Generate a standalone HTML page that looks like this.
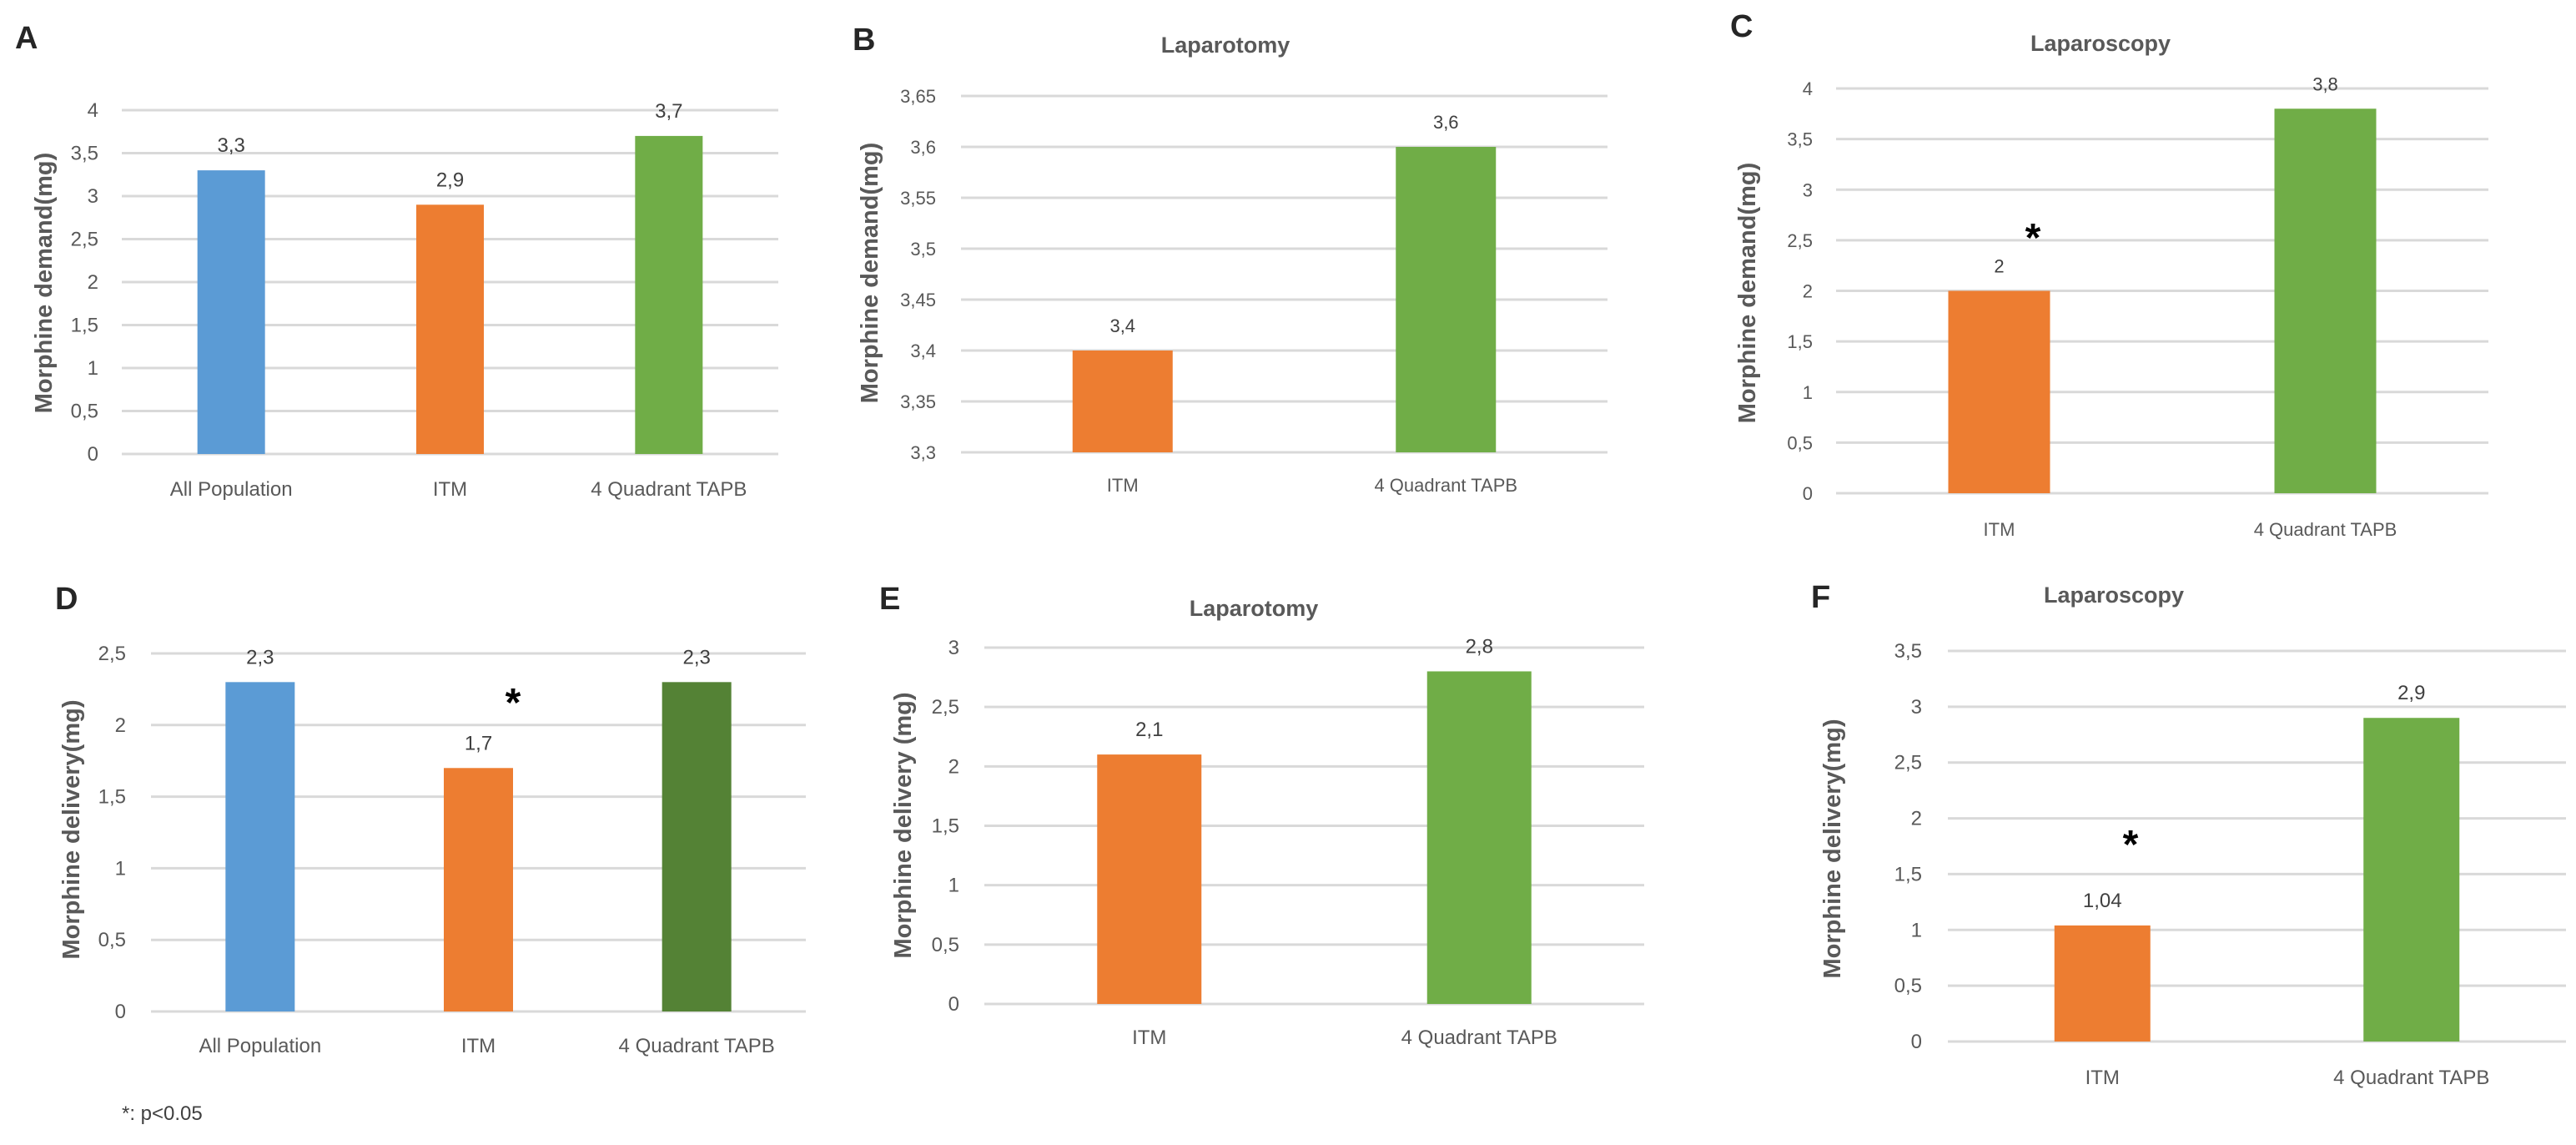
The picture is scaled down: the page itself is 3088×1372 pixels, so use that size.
<!DOCTYPE html>
<html><head><meta charset="utf-8">
<style>
html,body{margin:0;padding:0;background:#fff;}
svg{display:block;font-family:"Liberation Sans",sans-serif;}
</style></head>
<body>
<svg id="fig" width="3088" height="1372" viewBox="0 0 3088 1372" xmlns="http://www.w3.org/2000/svg"></svg>
<script>
// ---- data ----
const catsA = ["All Population", "ITM", "4 Quadrant TAPB"];
const valsA = [3.3, 2.9, 3.7];
const lblsA = ["3,3", "2,9", "3,7"];
const ticksA = [0, 0.5, 1, 1.5, 2, 2.5, 3, 3.5, 4];
const tickLblsA = ["0","0,5","1","1,5","2","2,5","3","3,5","4"];

const catsB = ["ITM", "4 Quadrant TAPB"];
const valsB = [3.4, 3.6];
const lblsB = ["3,4", "3,6"];
const ticksB = [3.3, 3.35, 3.4, 3.45, 3.5, 3.55, 3.6, 3.65];
const tickLblsB = ["3,3","3,35","3,4","3,45","3,5","3,55","3,6","3,65"];

const catsC = ["ITM", "4 Quadrant TAPB"];
const valsC = [2, 3.8];
const lblsC = ["2", "3,8"];
const ticksC = [0, 0.5, 1, 1.5, 2, 2.5, 3, 3.5, 4];
const tickLblsC = ["0","0,5","1","1,5","2","2,5","3","3,5","4"];

const catsD = ["All Population", "ITM", "4  Quadrant TAPB"];
const valsD = [2.3, 1.7, 2.3];
const lblsD = ["2,3", "1,7", "2,3"];
const ticksD = [0, 0.5, 1, 1.5, 2, 2.5];
const tickLblsD = ["0","0,5","1","1,5","2","2,5"];

const catsE = ["ITM", "4 Quadrant TAPB"];
const valsE = [2.1, 2.8];
const lblsE = ["2,1", "2,8"];
const ticksE = [0, 0.5, 1, 1.5, 2, 2.5, 3];
const tickLblsE = ["0","0,5","1","1,5","2","2,5","3"];

const catsF = ["ITM", "4 Quadrant TAPB"];
const valsF = [1.04, 2.9];
const lblsF = ["1,04", "2,9"];
const ticksF = [0, 0.5, 1, 1.5, 2, 2.5, 3, 3.5];
const tickLblsF = ["0","0,5","1","1,5","2","2,5","3","3,5"];

// ---- drawing ----
const NS = "http://www.w3.org/2000/svg";
const svg = document.getElementById("fig");
function mk(tag, attrs, parent) {
  const e = document.createElementNS(NS, tag);
  for (const k in attrs) e.setAttribute(k, attrs[k]);
  (parent || svg).appendChild(e);
  return e;
}
function txt(s, attrs, parent) { const t = mk("text", attrs, parent); t.textContent = s; return t; }

function panel(p) {
  const g = mk("g", {});
  
  
  const ymin = p.ticks[0], ymax = p.ticks[p.ticks.length - 1];
  const yScale = v => p.y0 + (v - ymin) / (ymax - ymin) * (p.y1 - p.y0);
  const n = p.cats.length;
  const band = (p.x1 - p.x0) / n;
  const xc = i => p.x0 + band * (i + 0.5);

  p.ticks.forEach((t, i) => {
    const y = yScale(t);
    const l = mk("line", {x1: p.x0, x2: p.x1, y1: y, y2: y, stroke: "#d9d9d9", "stroke-width": 3}, g);
    
    
    const tl = txt(p.tickLbls[i], {x: p.tickX, y: y + 8, "text-anchor": "end", "font-size": p.fs, fill: "#595959"}, g);
    
    
  });

  p.vals.forEach((v, i) => {
    const yt = yScale(v);
    const r = mk("rect", {x: xc(i) - p.bw / 2, y: yt, width: p.bw, height: p.y0 - yt, fill: p.colors[i]}, g);
    
    
    const vl = txt(p.lbls[i], {x: xc(i), y: yt - 22, "text-anchor": "middle", "font-size": p.fs, fill: "#404040"}, g);
    
    
    const cl = txt(p.cats[i], {x: xc(i), y: p.catY + 8, "text-anchor": "middle", "font-size": p.fs, fill: "#595959"}, g);
    
    
  });

  const at = txt(p.ytitle, {x: 0, y: 0, transform: "translate(" + p.titleX + "," + p.titleY + ") rotate(-90)", "text-anchor": "middle", "font-size": 29, "font-weight": "bold", fill: "#595959"}, g);
  
  

  const pl = txt(p.id, {x: p.letterX, y: p.letterY, "font-size": 38, "font-weight": "bold", fill: "#262626"}, g);
  
  

  if (p.title) {
    const ct = txt(p.title, {x: p.titleCx, y: p.titleCy + 10, "text-anchor": "middle", "font-size": 27, "font-weight": "bold", fill: "#595959"}, g);
    
    
  }
  if (p.star) {
    const st = txt("*", {x: p.star[0], y: p.star[1] + 22, "text-anchor": "middle", "font-size": 48, "font-weight": "bold", fill: "#000"}, g);
    
    
  }
}

const BLUE = "#5b9bd5", ORANGE = "#ed7d31", GREEN = "#70ad47", DGREEN = "#548235";

panel({id: "A", cats: catsA, vals: valsA, lbls: lblsA, ticks: ticksA, tickLbls: tickLblsA,
  x0: 146, x1: 933, y0: 544, y1: 132, bw: 81, tickX: 118, catY: 586, fs: 24,
  colors: [BLUE, ORANGE, GREEN], ytitle: "Morphine demand(mg)", titleX: 62, titleY: 339,
  letterX: 18, letterY: 58});
panel({id: "B", cats: catsB, vals: valsB, lbls: lblsB, ticks: ticksB, tickLbls: tickLblsB,
  x0: 1152, x1: 1927, y0: 542, y1: 115, bw: 120, tickX: 1122, catY: 581, fs: 22,
  colors: [ORANGE, GREEN], ytitle: "Morphine demand(mg)", titleX: 1052, titleY: 327,
  letterX: 1022, letterY: 60, title: "Laparotomy", titleCx: 1469, titleCy: 53});
panel({id: "C", cats: catsC, vals: valsC, lbls: lblsC, ticks: ticksC, tickLbls: tickLblsC,
  x0: 2201, x1: 2983, y0: 591, y1: 106, bw: 122, tickX: 2173, catY: 634, fs: 22,
  colors: [ORANGE, GREEN], ytitle: "Morphine demand(mg)", titleX: 2104, titleY: 351,
  letterX: 2074, letterY: 44, title: "Laparoscopy", titleCx: 2518, titleCy: 51, star: [2437, 279]});
panel({id: "D", cats: catsD, vals: valsD, lbls: lblsD, ticks: ticksD, tickLbls: tickLblsD,
  x0: 181, x1: 966, y0: 1212, y1: 783, bw: 83, tickX: 151, catY: 1253, fs: 24,
  colors: [BLUE, ORANGE, DGREEN], ytitle: "Morphine delivery(mg)", titleX: 95, titleY: 994,
  letterX: 66, letterY: 730, star: [615, 836]});
panel({id: "E", cats: catsE, vals: valsE, lbls: lblsE, ticks: ticksE, tickLbls: tickLblsE,
  x0: 1180, x1: 1971, y0: 1203, y1: 776, bw: 125, tickX: 1150, catY: 1243, fs: 24,
  colors: [ORANGE, GREEN], ytitle: "Morphine delivery (mg)", titleX: 1092, titleY: 989,
  letterX: 1054, letterY: 730, title: "Laparotomy", titleCx: 1503, titleCy: 728});
panel({id: "F", cats: catsF, vals: valsF, lbls: lblsF, ticks: ticksF, tickLbls: tickLblsF,
  x0: 2335, x1: 3076, y0: 1248, y1: 780, bw: 115, tickX: 2304, catY: 1291, fs: 24,
  colors: [ORANGE, GREEN], ytitle: "Morphine delivery(mg)", titleX: 2206, titleY: 1017,
  letterX: 2171, letterY: 728, title: "Laparoscopy", titleCx: 2534, titleCy: 712, star: [2554, 1006]});

const fn = txt("*: p<0.05", {x: 146, y: 1342, "font-size": 24, fill: "#404040"});


</script>
</body></html>
